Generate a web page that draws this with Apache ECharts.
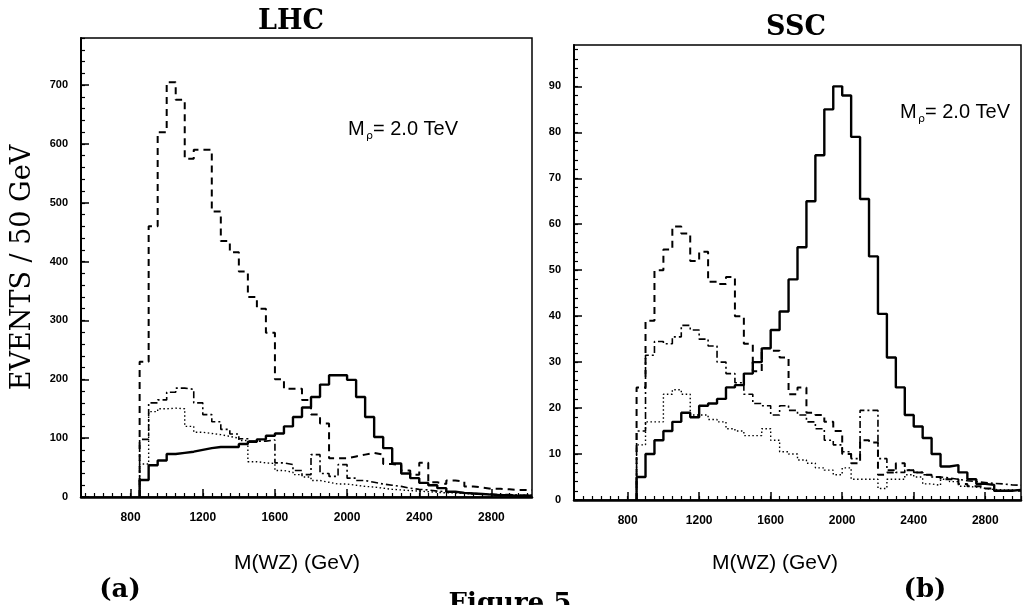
<!DOCTYPE html>
<html>
<head>
<meta charset="utf-8">
<script src="https://cdn.jsdelivr.net/npm/echarts@6/dist/echarts.min.js"></script>
<style>
  html, body { margin: 0; background: #fff; }
  #chart { width: 1024px; height: 605px; }
</style>
</head>
<body>
<div id="chart"></div>
<script>
// M(WZ) histograms, 50 GeV bins starting at 850 GeV
const BIN_START = 850
const BIN_WIDTH = 50

const X_TICK_LABELS = [800, 1200, 1600, 2000, 2400, 2800]
const LHC_Y_TICK_LABELS = [0, 100, 200, 300, 400, 500, 600, 700]
const SSC_Y_TICK_LABELS = [0, 10, 20, 30, 40, 50, 60, 70, 80, 90]

// LHC (a)
const lhcSolid = [29, 54, 62, 73, 75, 77, 80, 83, 85, 85, 85, 90, 94, 98, 104, 108, 120, 136, 152, 170,
  191, 207, 207, 199, 170, 136, 102, 83, 57, 40, 32, 24, 20, 15, 9, 7, 6, 5, 4, 3, 3, 2, 2]
const lhcDashed = [230, 460, 620, 705, 675, 575, 590, 590, 485, 435, 416, 383, 340, 320, 279, 200, 184, 184, 165, 140,
  125, 66, 66, 69, 72, 75, 72, 56, 54, 45, 38, 58, 25, 22, 28, 26, 18, 16, 14, 14, 13, 12, 12]
const lhcDashDot = [98, 160, 165, 178, 185, 183, 160, 140, 128, 115, 107, 99, 95, 95, 97, 58, 55, 45, 38, 72,
  40, 35, 55, 32, 28, 25, 22, 20, 18, 15, 13, 12, 10, 9, 8, 7, 6, 5, 5, 4, 4, 3, 3]
const lhcDotted = [56, 145, 150, 151, 150, 120, 110, 108, 106, 103, 100, 96, 60, 58, 57, 45, 42, 38, 34, 28,
  25, 22, 22, 20, 18, 17, 15, 13, 12, 11, 10, 9, 8, 7, 7, 6, 5, 5, 4, 4, 4, 3, 3]

// SSC (b)
const sscSolid = [5, 10, 13, 15, 17, 19, 18, 20.5, 21, 22, 24.5, 25, 27.5, 30, 33, 37, 41, 48, 55, 65,
  75, 85, 90, 88, 79, 65.5, 53, 40.5, 31, 24.5, 18.5, 16, 13.5, 10, 7.3, 7.6, 6, 4.5, 3.5, 3.3, 2, 2, 2.2]
const sscDashed = [24.5, 39, 50, 54.5, 59.5, 58, 52, 54, 47.5, 47, 48.5, 40, 34, 28, 33, 32.5, 31, 23, 24.5, 19,
  18.5, 17, 15, 10, 8, 13, 12.5, 5.5, 6, 8, 6.5, 6, 5.5, 5, 4.5, 4.5, 3.5, 3, 3, 2.5, 2, 2, 2]
const sscDashDot = [15, 31.5, 34.5, 34, 35.5, 38, 37, 35, 33.5, 30, 27.5, 25.5, 23, 21, 20.5, 18.5, 20.5, 19.5, 18.5, 17,
  15.5, 13, 12, 10.5, 9, 19.5, 19.5, 9, 6.5, 6, 6.5, 6, 5.5, 5, 4.8, 4.5, 4.2, 4, 3.8, 3.6, 3.5, 3.3, 3.2]
const sscDotted = [12, 17, 17, 23, 24, 23, 18.5, 18.5, 17.5, 17, 15.5, 15, 14, 14, 15.5, 13, 10.5, 10, 8.7, 8,
  7, 6.5, 5.5, 7, 4.5, 4.5, 4.5, 2.5, 4.5, 4.5, 5.5, 5, 3.5, 3.2, 4.5, 4, 3, 2.8, 2.5, 2.3, 2.2, 2.2, 2]

const LHC_X = [525, 3025]
const SSC_X = [500, 3000]

// bin edges -> points for a step line
function hist(values, xEnd) {
  const pts = [[BIN_START, 0]]
  values.forEach((v, i) => pts.push([BIN_START + i * BIN_WIDTH, v]))
  pts.push([xEnd, values[values.length - 1]])
  return pts
}

function range(from, to, step) {
  const out = []
  for (let v = from; v <= to + 1e-9; v += step) out.push(v)
  return out
}

const SANS = 'Liberation Sans'
const SERIF = 'DejaVu Serif'
const tickFont = { color: '#000', fontFamily: SANS, fontWeight: 'bold', fontSize: 12, formatter: (v) => String(v) }

function xAxes(g, ext) {
  return [
    {
      type: 'value', gridIndex: g, min: ext[0], max: ext[1], position: 'bottom',
      axisLine: { onZero: false, lineStyle: { color: '#000', width: 2.5 } },
      axisTick: { inside: true, length: 8, customValues: X_TICK_LABELS, lineStyle: { color: '#000', width: 1.5 } },
      axisLabel: { customValues: X_TICK_LABELS, margin: 15, ...tickFont },
      splitLine: { show: false },
    },
    {
      type: 'value', gridIndex: g, min: ext[0], max: ext[1], position: 'bottom',
      axisLine: { show: false },
      axisTick: { inside: true, length: 4, customValues: range(550, ext[1], 50), lineStyle: { color: '#000', width: 1.2 } },
      axisLabel: { show: false },
      splitLine: { show: false },
    },
  ]
}

function yAxes(g, max, labels, minorStep, extra) {
  return [
    {
      type: 'value', gridIndex: g, min: 0, max, position: 'left',
      axisLine: { show: true, onZero: false, lineStyle: { color: '#000', width: 2 } },
      axisTick: { inside: true, length: 8, customValues: labels, lineStyle: { color: '#000', width: 1.5 } },
      axisLabel: { customValues: labels, margin: 13, ...tickFont, fontSize: 11 },
      splitLine: { show: false },
      ...extra,
    },
    {
      type: 'value', gridIndex: g, min: 0, max, position: 'left',
      axisLine: { show: false },
      axisTick: { inside: true, length: 4, customValues: range(0, max, minorStep), lineStyle: { color: '#000', width: 1.2 } },
      axisLabel: { show: false },
      splitLine: { show: false },
    },
  ]
}

const STYLES = {
  solid: { type: 'solid', width: 2.4 },
  dashed: { type: [7, 5], width: 2 },
  dashDot: { type: [7, 3, 2, 3], width: 1.6 },
  dotted: { type: [1.5, 2.5], width: 1.4 },
}

function line(values, xEnd, style, xi, yi, z) {
  return {
    type: 'line', step: 'end', xAxisIndex: xi, yAxisIndex: yi,
    data: hist(values, xEnd), symbol: 'none', silent: true, z,
    lineStyle: { color: '#000', ...STYLES[style] },
  }
}

function text(str, x, y, font, align) {
  return {
    type: 'text', x, y,
    style: { text: str, font, fill: '#000', align: align || 'center', verticalAlign: 'middle',
      textAlign: align || 'center', textVerticalAlign: 'middle' },
  }
}

const chart = echarts.init(document.getElementById('chart'))
chart.setOption({
  animation: false,
  backgroundColor: '#fff',
  grid: [
    { left: 81, top: 38, width: 451, height: 459, show: true, borderColor: '#000', borderWidth: 1.5 },
    { left: 574, top: 45, width: 447, height: 455, show: true, borderColor: '#000', borderWidth: 1.5 },
  ],
  xAxis: [...xAxes(0, LHC_X), ...xAxes(1, SSC_X)],
  yAxis: [
    ...yAxes(0, 780, LHC_Y_TICK_LABELS, 20, {
      name: 'EVENTS / 50 GeV', nameLocation: 'middle', nameRotate: 90, nameGap: 45,
      nameTextStyle: { color: '#000', fontFamily: SERIF, fontSize: 27 },
    }),
    ...yAxes(1, 99, SSC_Y_TICK_LABELS, 2, {}),
  ],
  series: [
    line(lhcDotted, LHC_X[1], 'dotted', 0, 0, 2),
    line(lhcDashDot, LHC_X[1], 'dashDot', 0, 0, 3),
    line(lhcDashed, LHC_X[1], 'dashed', 0, 0, 4),
    line(lhcSolid, LHC_X[1], 'solid', 0, 0, 5),
    line(sscDotted, SSC_X[1], 'dotted', 2, 2, 2),
    line(sscDashDot, SSC_X[1], 'dashDot', 2, 2, 3),
    line(sscDashed, SSC_X[1], 'dashed', 2, 2, 4),
    line(sscSolid, SSC_X[1], 'solid', 2, 2, 5),
  ],
  graphic: [
    text('LHC', 291, 22, 'bold 27px "DejaVu Serif"'),
    text('SSC', 796, 28, 'bold 27px "DejaVu Serif"'),
    text('M(WZ) (GeV)', 297, 563, '21px "Liberation Sans"'),
    text('M(WZ) (GeV)', 775, 563, '21px "Liberation Sans"'),
    text('M', 348, 129, '20px "Liberation Sans"', 'left'),
    text('ρ', 366, 136, '11px "DejaVu Sans"', 'left'),
    text('= 2.0 TeV', 373, 129, '20px "Liberation Sans"', 'left'),
    text('M', 900, 112, '20px "Liberation Sans"', 'left'),
    text('ρ', 918, 119, '11px "DejaVu Sans"', 'left'),
    text('= 2.0 TeV', 925, 112, '20px "Liberation Sans"', 'left'),
    text('(a)', 120, 590, 'bold 26px "DejaVu Serif"'),
    text('(b)', 925, 590, 'bold 26px "DejaVu Serif"'),
    text('Figure 5', 510, 604, 'bold 26px "DejaVu Serif"'),
  ],
})
</script>
</body>
</html>
